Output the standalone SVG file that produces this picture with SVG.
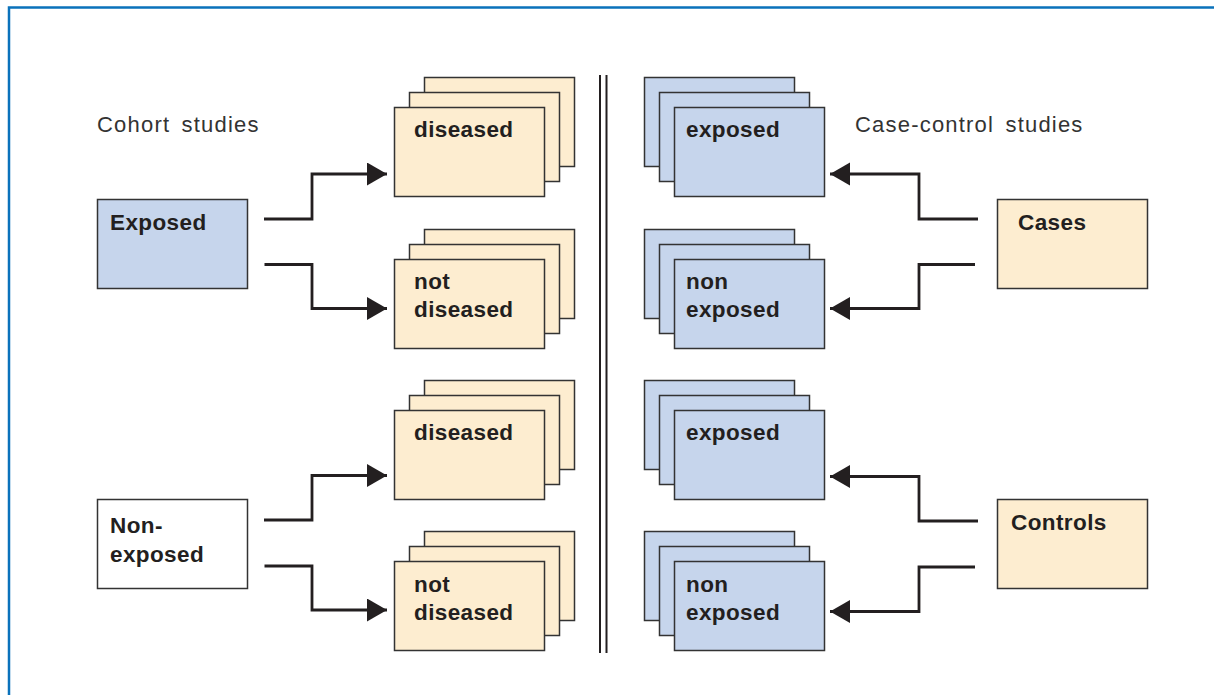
<svg xmlns="http://www.w3.org/2000/svg" width="1214" height="695" viewBox="0 0 1214 695">
<defs>
<style>
.peach{fill:#fdedd0;stroke:#333;stroke-width:1.5}
.blue{fill:#c6d5ec;stroke:#333;stroke-width:1.5}
.white{fill:#fff;stroke:#333;stroke-width:1.5}
.lbl{font-family:"Liberation Sans",Arial,sans-serif;font-weight:bold;font-size:22.5px;fill:#231f20;letter-spacing:0.4px}
.title{font-family:"Liberation Sans",Arial,sans-serif;font-size:22px;fill:#333;letter-spacing:1.2px;word-spacing:4px}
.conn{fill:none;stroke:#231f20;stroke-width:2.8}
</style>
<marker id="ah" markerUnits="userSpaceOnUse" markerWidth="24" markerHeight="26" refX="20" refY="11.5" orient="auto">
<path d="M0,0 L20,11.5 L0,23 Z" fill="#231f20"/>
</marker>
</defs>
<rect width="1214" height="695" fill="#fff"/>
<rect x="9" y="7.5" width="1230" height="720" fill="none" stroke="#0a72bb" stroke-width="2.5"/>

<g id="titles">
<text class="title" x="97" y="132">Cohort studies</text>
<text class="title" x="855" y="132">Case-control studies</text>
</g>

<g id="divider" stroke="#231f20" stroke-width="2">
<line x1="600" y1="75" x2="600" y2="653"/>
<line x1="606.5" y1="75" x2="606.5" y2="653"/>
</g>

<g id="exposed">
<rect class="blue" x="97.5" y="199.5" width="150" height="89"/>
<text class="lbl" x="110" y="230">Exposed</text>
</g>
<g id="non-exposed">
<rect class="white" x="97.5" y="499.5" width="150" height="89"/>
<text class="lbl" x="110" y="533">Non-</text>
<text class="lbl" x="110" y="562">exposed</text>
</g>

<g id="cohort-exp-diseased">
<rect class="peach" x="424.5" y="77.5" width="150" height="89"/>
<rect class="peach" x="409.5" y="92.5" width="150" height="89"/>
<rect class="peach" x="394.5" y="107.5" width="150" height="89"/>
<text class="lbl" x="414" y="137">diseased</text>
</g>
<g id="cohort-exp-notdiseased">
<rect class="peach" x="424.5" y="229.5" width="150" height="89"/>
<rect class="peach" x="409.5" y="244.5" width="150" height="89"/>
<rect class="peach" x="394.5" y="259.5" width="150" height="89"/>
<text class="lbl" x="414" y="289">not</text>
<text class="lbl" x="414" y="317">diseased</text>
</g>
<g id="cohort-nonexp-diseased">
<rect class="peach" x="424.5" y="380.5" width="150" height="89"/>
<rect class="peach" x="409.5" y="395.5" width="150" height="89"/>
<rect class="peach" x="394.5" y="410.5" width="150" height="89"/>
<text class="lbl" x="414" y="440">diseased</text>
</g>
<g id="cohort-nonexp-notdiseased">
<rect class="peach" x="424.5" y="531.5" width="150" height="89"/>
<rect class="peach" x="409.5" y="546.5" width="150" height="89"/>
<rect class="peach" x="394.5" y="561.5" width="150" height="89"/>
<text class="lbl" x="414" y="592">not</text>
<text class="lbl" x="414" y="620">diseased</text>
</g>

<g id="cases">
<rect class="peach" x="997.5" y="199.5" width="150" height="89"/>
<text class="lbl" x="1018" y="230">Cases</text>
</g>
<g id="controls">
<rect class="peach" x="997.5" y="499.5" width="150" height="89"/>
<text class="lbl" x="1011" y="530">Controls</text>
</g>

<g id="cases-exposed">
<rect class="blue" x="644.5" y="77.5" width="150" height="89"/>
<rect class="blue" x="659.5" y="92.5" width="150" height="89"/>
<rect class="blue" x="674.5" y="107.5" width="150" height="89"/>
<text class="lbl" x="686" y="137">exposed</text>
</g>
<g id="cases-nonexposed">
<rect class="blue" x="644.5" y="229.5" width="150" height="89"/>
<rect class="blue" x="659.5" y="244.5" width="150" height="89"/>
<rect class="blue" x="674.5" y="259.5" width="150" height="89"/>
<text class="lbl" x="686" y="289">non</text>
<text class="lbl" x="686" y="317">exposed</text>
</g>
<g id="controls-exposed">
<rect class="blue" x="644.5" y="380.5" width="150" height="89"/>
<rect class="blue" x="659.5" y="395.5" width="150" height="89"/>
<rect class="blue" x="674.5" y="410.5" width="150" height="89"/>
<text class="lbl" x="686" y="440">exposed</text>
</g>
<g id="controls-nonexposed">
<rect class="blue" x="644.5" y="531.5" width="150" height="89"/>
<rect class="blue" x="659.5" y="546.5" width="150" height="89"/>
<rect class="blue" x="674.5" y="561.5" width="150" height="89"/>
<text class="lbl" x="686" y="592">non</text>
<text class="lbl" x="686" y="620">exposed</text>
</g>

<g id="connectors">
<path class="conn" marker-end="url(#ah)" d="M264,219 H312 V174 H387"/>
<path class="conn" marker-end="url(#ah)" d="M264.5,264.5 H312 V308.5 H387"/>
<path class="conn" marker-end="url(#ah)" d="M264,520 H312 V475.5 H387"/>
<path class="conn" marker-end="url(#ah)" d="M264.5,566 H312 V610 H387"/>
<path class="conn" marker-end="url(#ah)" d="M978,219 H919 V174 H830"/>
<path class="conn" marker-end="url(#ah)" d="M975,264.5 H919 V308.5 H830"/>
<path class="conn" marker-end="url(#ah)" d="M978,521 H919 V476.5 H830"/>
<path class="conn" marker-end="url(#ah)" d="M975,567 H919 V611.5 H830"/>
</g>
</svg>
